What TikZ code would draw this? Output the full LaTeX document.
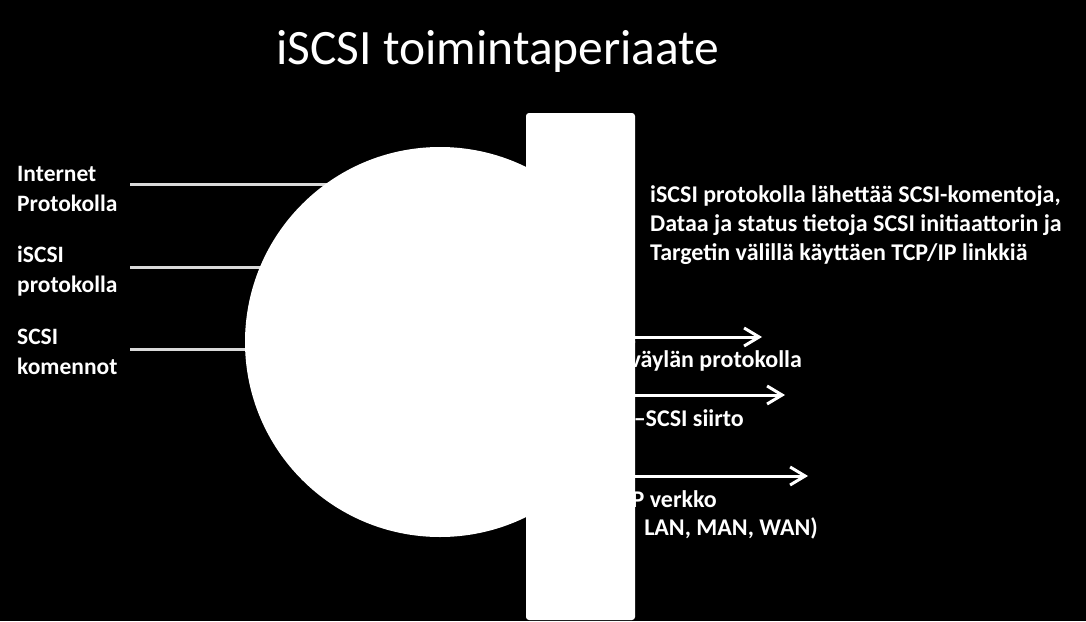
\documentclass[tikz,border=0pt]{standalone}
\usepackage{fontspec}
\setmainfont{Carlito}
\usetikzlibrary{arrows.meta}
\begin{document}
\begin{tikzpicture}[x=1pt, y=-1pt,
    txt/.style={text=white, font=\bfseries\fontsize{23.5}{30}\selectfont, inner sep=0pt, align=left},
    rtxt/.style={txt, font=\bfseries\fontsize{24}{29}\selectfont},
    feed/.style={draw=white!85!black, line width=3pt},
    arr/.style={draw=white, line width=3pt, -{Straight Barb[length=15pt,width=18pt]}}]
  \fill[black] (0,0) rectangle (1086,621);
  \useasboundingbox (0,0) rectangle (1086,621);

  \node[font=\fontsize{49.5}{58}\selectfont, text=white, inner sep=0pt, anchor=base] (title) at (498,64) {iSCSI toimintaperiaate};

  % kerrokset vasemmalla
  \node[txt, anchor=base west] (ip) at (17,211) {Internet\\Protokolla};
  \node[txt, anchor=base west] (iscsi) at (17,292) {iSCSI\\protokolla};
  \node[txt, anchor=base west] (scsi) at (17,374) {SCSI\\komennot};

  \coordinate (cc) at (440,342);
  \coordinate (ipl) at (130,184);
  \coordinate (iscsil) at (130,267);
  \coordinate (scsil) at (130,349);
  \draw[feed] (ipl) -- (ipl -| cc);
  \draw[feed] (iscsil) -- (iscsil -| cc);
  \draw[feed] (scsil) -- (scsil -| cc);
  \node[circle, fill=white, minimum size=390pt, inner sep=0pt] (disc) at (cc) {};

  % tekstit oikealla
  \node[rtxt, anchor=base east] (bus) at (802,367) {väylän protokolla};
  \node[rtxt, anchor=base east] (move) at (744,426) {–SCSI siirto};
  \node[rtxt, anchor=base east] (net) at (717,507) {P verkko};
  \node[rtxt, anchor=base east] (nets) at (818,535) {LAN, MAN, WAN)};
  \node[fill=white, rounded corners=3pt, minimum width=109pt, minimum height=507pt, inner sep=0pt] (bar) at (580.5,366.5) {};

  \node[rtxt, anchor=base west] (info) at (650,260)
    {iSCSI protokolla lähettää SCSI-komentoja,\\Dataa ja status tietoja SCSI initiaattorin ja\\Targetin välillä käyttäen TCP/IP linkkiä};

  \coordinate (t1) at (762,337);
  \coordinate (t2) at (785,395);
  \coordinate (t3) at (808,476);
  \draw[arr] (bar.east |- t1) -- (t1);
  \draw[arr] (bar.east |- t2) -- (t2);
  \draw[arr] (bar.east |- t3) -- (t3);
\end{tikzpicture}
\end{document}
